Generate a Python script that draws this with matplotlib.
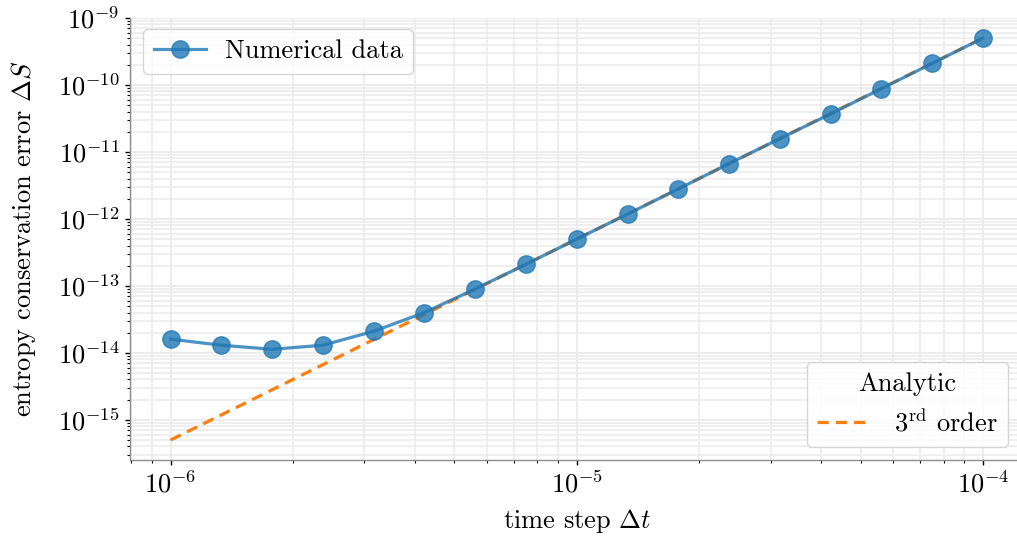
import numpy as np
import matplotlib
matplotlib.use("Agg")
import matplotlib.pyplot as plt

# data
dt = [1.0e-6, 1.334e-6, 1.778e-6, 2.371e-6, 3.162e-6, 4.217e-6, 5.623e-6, 7.499e-6,
      1.0e-5, 1.334e-5, 1.778e-5, 2.371e-5, 3.162e-5, 4.217e-5, 5.623e-5, 7.499e-5, 1.0e-4]
err = [1.6e-14, 1.3e-14, 1.13e-14, 1.3e-14, 2.1e-14, 4.0e-14, 9.0e-14, 2.1e-13,
       5.0e-13, 1.18e-12, 2.8e-12, 6.7e-12, 1.58e-11, 3.7e-11, 8.8e-11, 2.1e-10, 5.0e-10]
analytic_dt = [1.0e-6, 1.0e-4]
analytic_err = [5.0e-16, 5.0e-10]

plt.rcParams['font.family'] = 'serif'
plt.rcParams['font.serif'] = ['cmr10']
plt.rcParams['mathtext.fontset'] = 'cm'
plt.rcParams['axes.formatter.use_mathtext'] = True
plt.rcParams['axes.unicode_minus'] = False
fs = 19

fig = plt.figure(figsize=(10.17, 5.44), dpi=100)
W, H = 1017, 544
ax = fig.add_axes([130 / W, 1 - 460 / H, (1023.5 - 130) / W, (460 - 18) / H])

ax.plot(analytic_dt, analytic_err, ls='--', color='#ff7f0e', lw=2.3, dashes=(3.5, 2.2), zorder=2)
ax.plot(dt, err, marker='o', color='#1f77b4', alpha=0.8, lw=2.3, ms=12.5, zorder=3)

ax.set_xscale('log')
ax.set_yscale('log')
ax.set_xlim(10 ** -6.1, 10 ** -3.9)
ax.set_ylim(10 ** -15.6, 10 ** -9.0)

ax.grid(True, which='major', color='#ebebeb', lw=1.3, zorder=0)
ax.grid(True, which='minor', color='#ebebeb', lw=1.1, zorder=0)
ax.set_axisbelow(True)
for s in ['top', 'right']:
    ax.spines[s].set_visible(False)
for s in ['left', 'bottom']:
    ax.spines[s].set_color('#8c8c8c')
    ax.spines[s].set_linewidth(1.0)
ax.tick_params(which='major', length=3.5, width=1.0, color='black', labelsize=fs, pad=4)
ax.tick_params(which='minor', length=2.0, width=0.8, color='black')

ax.set_xlabel(r'time step $\Delta t$', fontsize=fs, labelpad=7)
ax.set_ylabel(r'entropy conservation error $\Delta S$', fontsize=fs, labelpad=14)

h_num, = ax.plot([], [], marker='o', color='#1f77b4', alpha=0.8, lw=2.3, ms=12.5)
leg1 = ax.legend([h_num], ['Numerical data'], loc='upper left',
                 bbox_to_anchor=(143 / W, 1 - 29 / H), bbox_transform=fig.transFigure,
                 borderaxespad=0, fontsize=fs, frameon=True, fancybox=True, framealpha=0.8,
                 edgecolor='#cccccc', handletextpad=0.7)
ax.add_artist(leg1)
h_an, = ax.plot([], [], ls='--', color='#ff7f0e', lw=2.3, dashes=(3.5, 2.2))
leg2 = ax.legend([h_an], [r'$3^{\mathrm{rd}}$ order'], title='Analytic', loc='lower right',
                 bbox_to_anchor=(1008 / W, 1 - 447 / H), bbox_transform=fig.transFigure,
                 borderaxespad=0, fontsize=fs, title_fontsize=fs, frameon=True, fancybox=True,
                 framealpha=0.8, edgecolor='#cccccc', handletextpad=0.9)

fig.savefig('out.png', dpi=100)
